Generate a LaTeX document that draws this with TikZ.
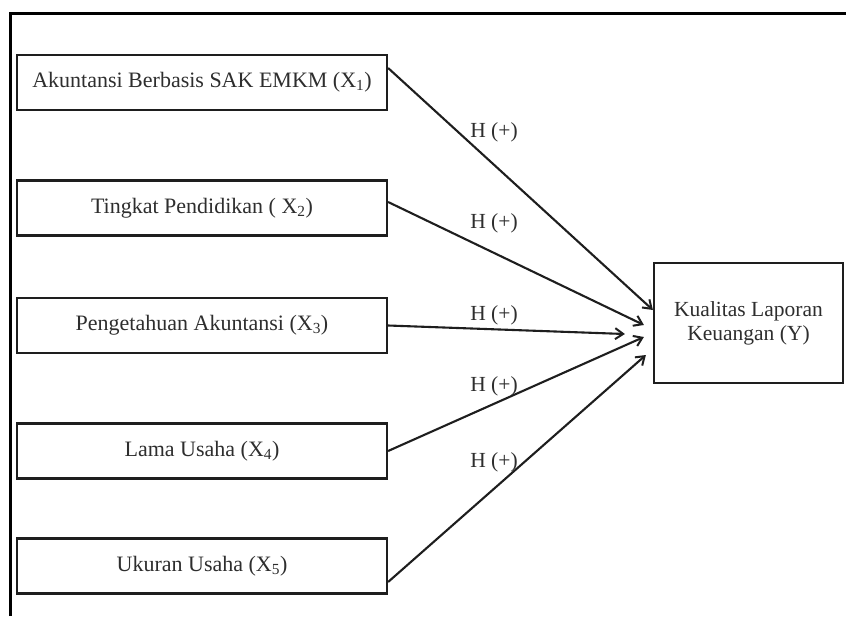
\documentclass[tikz,border=0pt]{standalone}
\usepackage{fontspec}
\setmainfont{Liberation Serif}
\usetikzlibrary{arrows.meta,calc}
\definecolor{txt}{HTML}{2E2E2E}
\definecolor{ln}{HTML}{1E1E1E}
\tikzset{
  varbox/.style={draw=ln, line width=2.2pt, minimum width=370pt, minimum height=55pt, inner sep=0pt, text=txt, font=\fontsize{22}{25}\selectfont},
  ybox/.style={draw=ln, line width=2.2pt, minimum width=189pt, minimum height=120pt, inner sep=0pt, text=txt, align=center, font=\fontsize{21.5}{24}\selectfont},
  hlabel/.style={text=txt, inner sep=0pt, font=\fontsize{21.5}{24}\selectfont},
  conn/.style={draw=ln, line width=2.1pt, -{Straight Barb[length=8pt,width=11pt,line width=2pt]}},
  frameline/.style={draw=black, line width=3pt}
}
\begin{document}
\begin{tikzpicture}[x=1pt,y=-1pt]
\useasboundingbox (0,0) rectangle (846,616);
\fill[white] (0,0) rectangle (846,616);
\coordinate (fa) at (10,616);
\coordinate (fb) at (10,13);
\coordinate (fc) at (846,13);
\draw[frameline] (fa) -- (fb) -- (fc);

\node[varbox] (b1) at (202,82.5) {Akuntansi Berbasis SAK EMKM (X\textsubscript{1})};
\node[varbox] (b2) at (202,208) {Tingkat Pendidikan ( X\textsubscript{2})};
\node[varbox] (b3) at (202,325.5) {Pengetahuan Akuntansi (X\textsubscript{3})};
\node[varbox] (b4) at (202,451) {Lama Usaha (X\textsubscript{4})};
\node[varbox] (b5) at (202,566) {Ukuran Usaha (X\textsubscript{5})};

\node[ybox] (y) at (748.5,323) {Kualitas Laporan\\Keuangan (Y)};

\coordinate (s1) at ([yshift=14.5pt]b1.east);
\coordinate (s2) at ([yshift=6pt]b2.east);
\coordinate (s3) at (b3.east);
\coordinate (s4) at (b4.east);
\coordinate (s5) at ([yshift=-16pt]b5.east);

\coordinate (e1) at ([yshift=13pt]y.west);
\coordinate (e2) at ([xshift=-9pt,yshift=-2pt]y.west);
\coordinate (e3) at ([xshift=-28pt,yshift=-11pt]y.west);
\coordinate (e4) at ([xshift=-9pt,yshift=-14pt]y.west);
\coordinate (e5) at ([xshift=-7pt,yshift=-32pt]y.west);

\draw[conn] (s1) -- (e1);
\draw[conn] (s2) -- (e2);
\draw[conn] (s3) -- (e3);
\draw[conn] (s4) -- (e4);
\draw[conn] (s5) -- (e5);

\node[hlabel] (h1) at (494,132) {H (+)};
\node[hlabel] (h2) at (494,223) {H (+)};
\node[hlabel] (h3) at (494,315) {H (+)};
\node[hlabel] (h4) at (494,386) {H (+)};
\node[hlabel] (h5) at (494,462) {H (+)};
\end{tikzpicture}
\end{document}
